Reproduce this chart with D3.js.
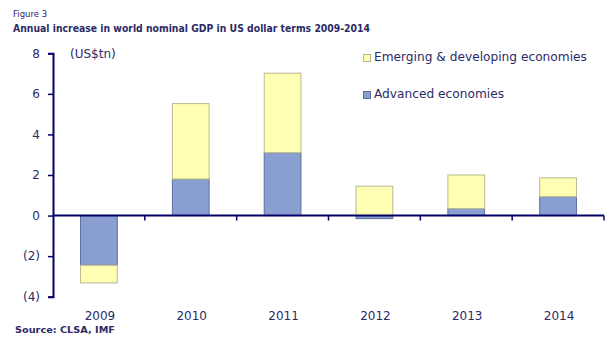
<!DOCTYPE html>
<html>
<head>
<meta charset="utf-8">
<script src="https://cdn.jsdelivr.net/npm/d3@7"></script>
<style>
  html, body { margin: 0; padding: 0; background: #fff; }
  svg { display: block; }
  text { font-family: "DejaVu Sans", Verdana, sans-serif; fill: #2b2b66; }
</style>
</head>
<body>
<svg id="chart" width="616" height="346"></svg>
<script>
// Annual increase in world nominal GDP (US$tn), split by economy group
const years = ["2009", "2010", "2011", "2012", "2013", "2014"];
const advanced = [-2.45, 1.8, 3.1, -0.15, 0.35, 0.93];
const emerging = [-0.87, 3.72, 3.92, 1.45, 1.65, 0.93];
const yTicks = [-4, -2, 0, 2, 4, 6, 8];
const seriesNames = ["Emerging & developing economies", "Advanced economies"];

const colors = {
  adv: "#8a9fd1", advStroke: "#5d6da0",
  emg: "#ffffb4", emgStroke: "#b9b98e",
  axis: "#000066", text: "#2b2b66"
};

const svg = d3.select("#chart");
const plotLeft = 53, plotRight = 604, plotTop = 53.3, plotBottom = 296.7;

const x = d3.scaleBand().domain(years).range([plotLeft, plotRight]).paddingInner(0.6).paddingOuter(0.3);
const xTicks = d3.scaleBand().domain(years).range([plotLeft, plotRight]);
const y = d3.scaleLinear().domain([-4, 8]).range([plotBottom, plotTop]);

// Titles
svg.append("text").attr("x", 13).attr("y", 17).attr("font-size", 8.5).text("Figure 3");
svg.append("text").attr("x", 13).attr("y", 32).attr("font-size", 10.5).attr("font-weight", "bold")
  .attr("textLength", 357).attr("lengthAdjust", "spacingAndGlyphs")
  .text("Annual increase in world nominal GDP in US dollar terms 2009-2014");

// Stacked bars: negatives stack downward from zero, positives upward
years.forEach((yr, i) => {
  const a = advanced[i], e = emerging[i];
  let posBase = 0, negBase = 0;
  const segs = [];
  [[a, "adv"], [e, "emg"]].forEach(([v, k]) => {
    if (v >= 0) { segs.push([posBase, posBase + v, k]); posBase += v; }
    else { segs.push([negBase + v, negBase, k]); negBase += v; }
  });
  segs.forEach(([lo, hi, k]) => {
    svg.append("rect")
      .attr("x", x(yr)).attr("width", x.bandwidth())
      .attr("y", y(hi)).attr("height", y(lo) - y(hi))
      .attr("fill", colors[k]).attr("stroke", colors[k + "Stroke"]).attr("stroke-width", 1);
  });
});

// Y axis
const yAxis = d3.axisLeft(y).tickValues(yTicks).tickSize(5).tickPadding(8)
  .tickFormat(d => d < 0 ? `(${Math.abs(d)})` : `${d}`);
const gy = svg.append("g").attr("transform", `translate(${plotLeft},0)`).call(yAxis);
gy.select(".domain").attr("stroke", colors.axis).attr("stroke-width", 2);
gy.selectAll(".tick line").attr("stroke", colors.axis).attr("stroke-width", 1.5);
gy.selectAll(".tick text").attr("font-size", 12).attr("fill", colors.text)
  .attr("font-family", "DejaVu Sans, sans-serif");

// X axis along zero with boundary ticks
svg.append("line").attr("x1", plotLeft).attr("x2", plotRight).attr("y1", y(0)).attr("y2", y(0))
  .attr("stroke", colors.axis).attr("stroke-width", 2);
years.forEach(yr => {
  const tx = xTicks(yr) + xTicks.bandwidth();
  svg.append("line").attr("x1", tx).attr("x2", tx).attr("y1", y(0)).attr("y2", y(0) + 5)
    .attr("stroke", colors.axis).attr("stroke-width", 1.5);
  svg.append("text").attr("x", xTicks(yr) + xTicks.bandwidth() / 2 + 1).attr("y", 320)
    .attr("text-anchor", "middle").attr("font-size", 12).text(yr);
});

// Unit label
svg.append("text").attr("x", 70).attr("y", 58).attr("font-size", 12).text("(US$tn)");

// Legend
const legend = [[seriesNames[0], "emg", 61], [seriesNames[1], "adv", 98]];
legend.forEach(([name, k, by]) => {
  svg.append("rect").attr("x", 363.5).attr("y", by - 6.5).attr("width", 7).attr("height", 7)
    .attr("fill", colors[k]).attr("stroke", colors[k + "Stroke"]).attr("stroke-width", 1);
  svg.append("text").attr("x", 374).attr("y", by).attr("font-size", 12.2).text(name);
});

// Source
svg.append("text").attr("x", 15).attr("y", 333).attr("font-size", 9.5).attr("font-weight", "bold")
  .attr("textLength", 100).attr("lengthAdjust", "spacingAndGlyphs")
  .text("Source: CLSA, IMF");
</script>
</body>
</html>
